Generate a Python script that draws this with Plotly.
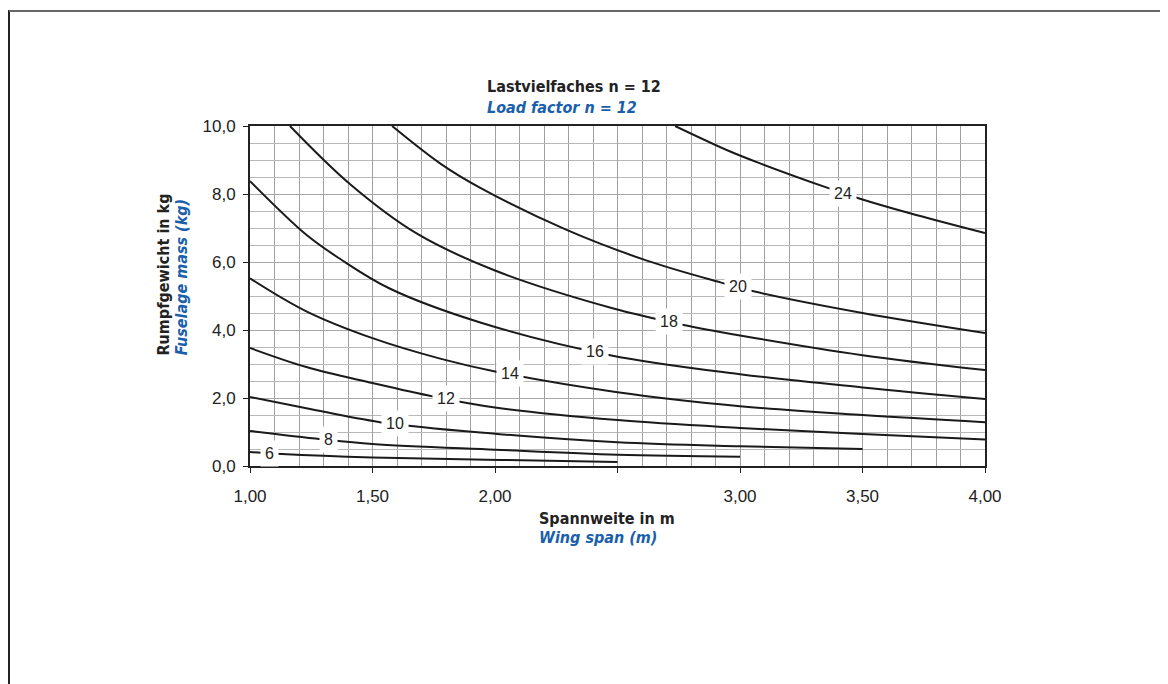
import numpy as np
import plotly.graph_objects as go

# Spannweite (m) / Rumpfgewicht (kg) je Kurve
levels = [6, 8, 10, 12, 14, 16, 18, 20, 24]

span_6 = [1.0, 1.13, 1.5, 2.02, 2.5]
mass_6 = [0.41, 0.35, 0.25, 0.18, 0.12]

span_8 = [1.0, 1.29, 1.5, 2.0, 2.5, 3.0]
mass_8 = [1.03, 0.79, 0.65, 0.48, 0.33, 0.27]

span_10 = [1.0, 1.23, 1.53, 2.0, 2.5, 3.0, 3.5]
mass_10 = [2.03, 1.70, 1.29, 0.95, 0.70, 0.58, 0.50]

span_12 = [1.0, 1.23, 1.5, 1.75, 2.0, 2.5, 3.0, 3.5, 4.0]
mass_12 = [3.47, 2.91, 2.44, 2.04, 1.72, 1.35, 1.12, 0.94, 0.78]

span_14 = [1.0, 1.23, 1.5, 1.78, 2.0, 2.5, 3.0, 3.5, 4.0]
mass_14 = [5.52, 4.55, 3.76, 3.15, 2.78, 2.17, 1.76, 1.50, 1.29]

span_16 = [1.0, 1.23, 1.37, 1.57, 1.94, 2.47, 3.0, 3.5, 4.0]
mass_16 = [8.38, 6.80, 6.08, 5.22, 4.22, 3.26, 2.70, 2.31, 1.97]

span_18 = [1.163, 1.41, 1.68, 2.0, 2.48, 2.77, 3.0, 3.5, 4.0]
mass_18 = [10.0, 8.28, 6.84, 5.75, 4.64, 4.15, 3.84, 3.26, 2.82]

span_20 = [1.58, 1.78, 1.94, 2.29, 2.62, 2.92, 3.06, 3.5, 4.0]
mass_20 = [10.0, 8.88, 8.18, 6.95, 6.04, 5.40, 5.13, 4.50, 3.91]

span_24 = [2.735, 2.96, 3.09, 3.37, 3.49, 3.69, 4.0]
mass_24 = [10.0, 9.25, 8.88, 8.15, 7.86, 7.44, 6.85]

# x-Position der Kurvenbeschriftung
label_x = [1.08, 1.32, 1.59, 1.80, 2.06, 2.41, 2.71, 2.99, 3.42]

x_tickvals = [1.0, 1.5, 2.0, 2.5, 3.0, 3.5, 4.0]
x_ticktext = ["1,00", "1,50", "2,00", "", "3,00", "3,50", "4,00"]
y_tickvals = [0, 2, 4, 6, 8, 10]
y_ticktext = ["0,0", "2,0", "4,0", "6,0", "8,0", "10,0"]

curves = [(span_6, mass_6), (span_8, mass_8), (span_10, mass_10),
          (span_12, mass_12), (span_14, mass_14), (span_16, mass_16),
          (span_18, mass_18), (span_20, mass_20), (span_24, mass_24)]

BLUE = "#1a5fab"
COND = "Liberation Sans Narrow, Arial Narrow, DejaVu Sans Condensed, sans-serif"
SANS = "Liberation Sans, Arial, sans-serif"

fig = go.Figure()
for lev, (xs, ys) in zip(levels, curves):
    fig.add_trace(go.Scatter(x=xs, y=ys, mode="lines", name=str(lev),
                             line=dict(color="#1a1a1a", width=2, shape="spline", smoothing=1.0),
                             showlegend=False, hoverinfo="skip"))

for lev, lx, (xs, ys) in zip(levels, label_x, curves):
    fig.add_annotation(x=lx, y=float(np.interp(lx, xs, ys)), text=str(lev), showarrow=False,
                       font=dict(family=SANS, size=16, color="#222"),
                       bgcolor="white", borderpad=4)

# Titel
fig.add_annotation(xref="paper", yref="paper", x=0.3197, y=1.115, xanchor="left", yanchor="middle",
                   text="<b>Lastvielfaches n = 12</b>", showarrow=False,
                   font=dict(family=COND, size=16, color="#222"))
fig.add_annotation(xref="paper", yref="paper", x=0.3197, y=1.053, xanchor="left", yanchor="middle",
                   text="<b><i>Load factor n = 12</i></b>", showarrow=False,
                   font=dict(family=COND, size=16, color=BLUE))
fig.add_annotation(xref="paper", yref="paper", x=0.3905, y=-0.153, xanchor="left", yanchor="middle",
                   text="<b>Spannweite in m</b>", showarrow=False,
                   font=dict(family=COND, size=16, color="#222"))
fig.add_annotation(xref="paper", yref="paper", x=0.3905, y=-0.209, xanchor="left", yanchor="middle",
                   text="<b><i>Wing span (m)</i></b>", showarrow=False,
                   font=dict(family=COND, size=16, color=BLUE))
fig.add_annotation(xref="paper", yref="paper", x=-0.118, y=0.32, xanchor="center", yanchor="bottom",
                   text="<b>Rumpfgewicht in kg</b>", showarrow=False, textangle=-90,
                   font=dict(family=COND, size=16, color="#222"))
fig.add_annotation(xref="paper", yref="paper", x=-0.093, y=0.32, xanchor="center", yanchor="bottom",
                   text="<b><i>Fuselage mass (kg)</i></b>", showarrow=False, textangle=-90,
                   font=dict(family=COND, size=16, color=BLUE))

# Rahmen des Blattes
fig.add_shape(type="line", xref="paper", yref="paper", x0=-0.3279, x1=-0.3279, y0=1.341, y1=-0.7,
              line=dict(color="#222", width=2))
fig.add_shape(type="line", xref="paper", yref="paper", x0=-0.3279, x1=1.3, y0=1.338, y1=1.338,
              line=dict(color="#666", width=2))

fig.update_xaxes(range=[1, 4], tickvals=x_tickvals, ticktext=x_ticktext,
                 ticks="outside", ticklen=5, tickcolor="#222", ticklabelstandoff=9,
                 showline=True, linecolor="#222", linewidth=2, mirror=True,
                 showgrid=True, gridcolor="#a0a0a0", gridwidth=1, zeroline=False,
                 minor=dict(dtick=0.1, tick0=1, showgrid=True, gridcolor="#a0a0a0", gridwidth=1),
                 tickfont=dict(family=SANS, size=17, color="#222"))
fig.update_yaxes(range=[0, 10], tickvals=y_tickvals, ticktext=y_ticktext,
                 ticks="outside", ticklen=5, tickcolor="#222", ticklabelstandoff=4,
                 showline=True, linecolor="#222", linewidth=2, mirror=True,
                 showgrid=True, gridcolor="#a8a8a8", gridwidth=1, zeroline=False,
                 minor=dict(dtick=0.5, tick0=0, showgrid=True, gridcolor="#b8b8b8", gridwidth=1),
                 tickfont=dict(family=SANS, size=17, color="#222"))

# die Seite hat 8 px Rand, daher Ränder um 8 px verschoben
fig.update_layout(width=1168, height=684, plot_bgcolor="white", paper_bgcolor="white",
                  margin=dict(l=242, r=191, t=118, b=226))

fig.write_html("out.html")
